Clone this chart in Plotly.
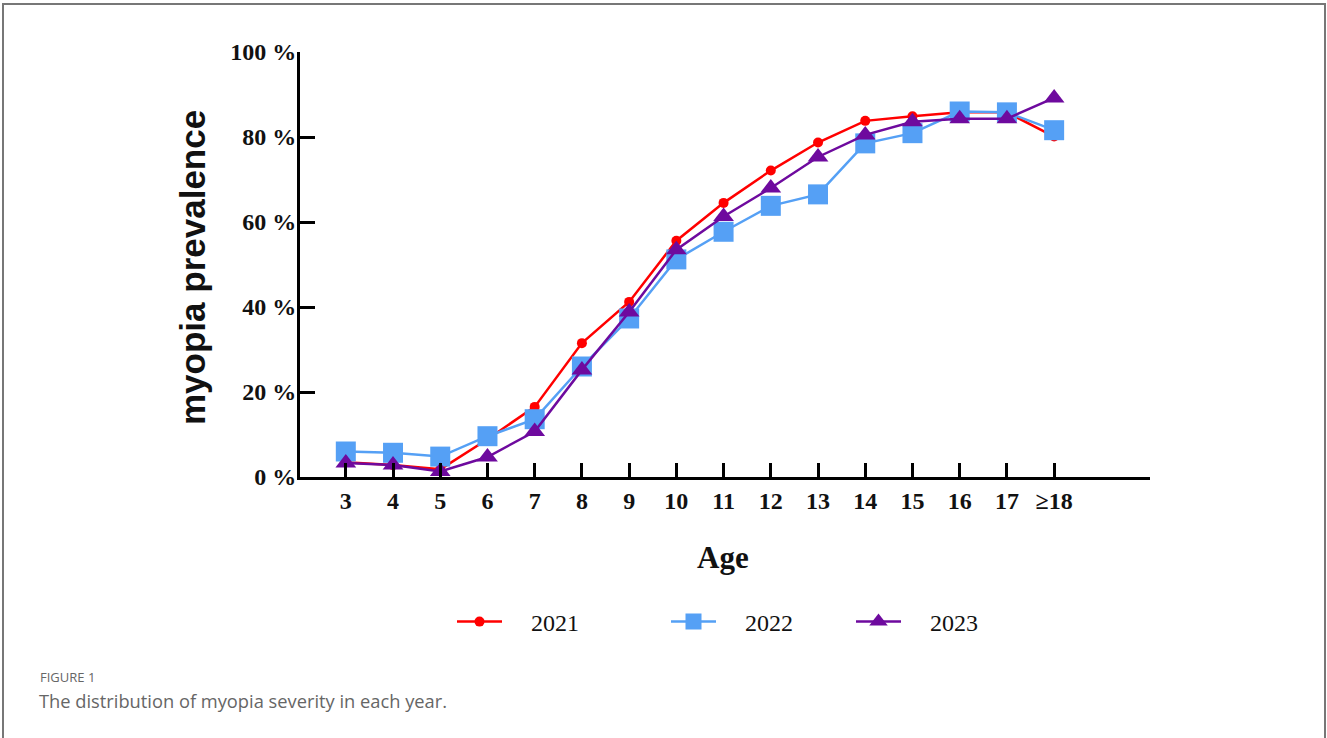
import plotly.graph_objects as go

ages = ["3", "4", "5", "6", "7", "8", "9", "10", "11", "12", "13", "14", "15", "16", "17", "≥18"]
y2021 = [3.5, 2.8, 1.8, 8.9, 16.5, 31.5, 41.2, 55.6, 64.5, 72.1, 78.7, 83.8, 84.9, 85.8, 85.8, 80.1]
y2022 = [6.0, 5.7, 4.8, 9.6, 13.6, 26.0, 37.3, 51.2, 57.7, 63.8, 66.5, 78.5, 80.9, 86.0, 85.8, 81.6]
y2023 = [3.3, 2.8, 1.3, 4.7, 10.7, 25.2, 38.8, 53.5, 61.3, 68.0, 75.3, 80.5, 83.6, 84.3, 84.3, 89.2]
series_names = ["2021", "2022", "2023"]
ytick_vals = [0, 20, 40, 60, 80, 100]
ytick_text = ["0 %", "20 %", "40 %", "60 %", "80 %", "100 %"]

xi = list(range(len(ages)))
W, H = 1327, 738
L, R, T, B = 300, 177, 52, 261
PW, PH = W - L - R, H - T - B

def px(x):
    return (x - L) / PW

def py(y):
    return (H - B - y) / PH

pad = "&nbsp;" * 4
fig = go.Figure()
fig.add_trace(go.Scatter(x=xi, y=y2021, name=pad + series_names[0], mode="lines+markers",
                         line=dict(color="#FF0000", width=2.5), legend="legend",
                         marker=dict(symbol="circle", size=10, color="#FF0000")))
fig.add_trace(go.Scatter(x=xi, y=y2022, name=pad + series_names[1], mode="lines+markers",
                         line=dict(color="#55A0F5", width=2.5), legend="legend2",
                         marker=dict(symbol="square", size=20, color="#55A0F5")))
fig.add_trace(go.Scatter(x=xi, y=y2023, name=pad + series_names[2], mode="lines+markers",
                         line=dict(color="#6E0A9E", width=2.5), legend="legend3",
                         marker=dict(symbol="triangle-up", size=18, color="#6E0A9E")))

serif_b = dict(family="Liberation Serif", size=24, color="#111", weight="bold")
fig.update_xaxes(range=[-0.97, 17.03], tickvals=xi, ticktext=ages,
                 showline=True, linewidth=3, linecolor="black",
                 ticks="inside", ticklen=14, tickwidth=3, tickcolor="black",
                 showgrid=False, zeroline=False,
                 tickfont=serif_b)
fig.update_yaxes(range=[0, 100], tickvals=ytick_vals, ticktext=ytick_text,
                 showline=True, linewidth=3, linecolor="black",
                 ticks="inside", ticklen=15, tickwidth=3, tickcolor="black",
                 showgrid=False, zeroline=False, ticklabelstandoff=-4,
                 tickfont=serif_b)

fig.add_annotation(text="<b>myopia prevalence</b>", xref="paper", yref="paper",
                   x=px(192), y=py(268), xanchor="center", yanchor="middle",
                   textangle=-90, showarrow=False,
                   font=dict(family="Liberation Sans", size=35, color="#111"))
fig.add_annotation(text="<b>Age</b>", xref="paper", yref="paper",
                   x=px(723), y=py(557), xanchor="center", yanchor="middle", showarrow=False,
                   font=dict(family="Liberation Serif", size=31, color="#111"))
fig.add_annotation(text="FIGURE 1", xref="paper", yref="paper",
                   x=px(38), y=py(677), xanchor="left", yanchor="middle", showarrow=False,
                   font=dict(family="Open Sans", size=13, color="#666"))
fig.add_annotation(text="The distribution of myopia severity in each year.", xref="paper", yref="paper",
                   x=px(37), y=py(700), xanchor="left", yanchor="middle", showarrow=False,
                   font=dict(family="Open Sans", size=18.3, color="#666"))

fig.add_shape(type="rect", xref="paper", yref="paper",
              x0=px(3), x1=px(1325), y0=py(750), y1=py(4),
              line=dict(color="#777", width=2), fillcolor="rgba(0,0,0,0)", layer="below")

leg_font = dict(family="Liberation Serif", size=24, color="#111", weight="normal")
def leg(xpx):
    return dict(orientation="h", x=px(xpx), y=py(622), xanchor="left", yanchor="middle",
                font=leg_font, itemwidth=45, bgcolor="rgba(0,0,0,0)")

fig.update_layout(
    width=W, height=H,
    margin=dict(l=L, r=R, t=T, b=B),
    paper_bgcolor="white", plot_bgcolor="white",
    showlegend=True,
    legend=leg(452), legend2=leg(666), legend3=leg(851),
)

fig.write_html("out.html", config={"displayModeBar": False},
               post_script="document.body.style.margin='0';document.body.style.overflow='hidden';")
